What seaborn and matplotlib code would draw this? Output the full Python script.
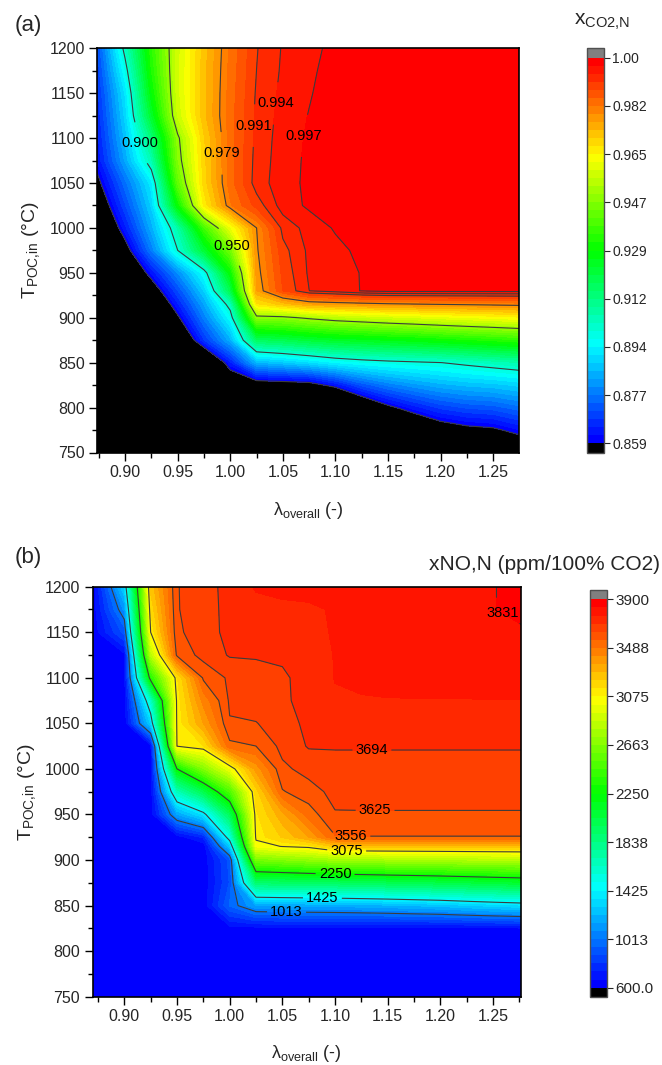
import numpy as np
import matplotlib
matplotlib.use("Agg")
import matplotlib.pyplot as plt
from matplotlib.colors import ListedColormap, BoundaryNorm
from matplotlib.ticker import MultipleLocator, FormatStrFormatter
import seaborn as sns

sns.set_style("ticks")
plt.rcParams["font.family"] = ["Liberation Sans", "DejaVu Sans"]
plt.rcParams["mathtext.fontset"] = "custom"
plt.rcParams["mathtext.rm"] = "Liberation Sans"
plt.rcParams["mathtext.it"] = "Liberation Sans:italic"
plt.rcParams["mathtext.bf"] = "Liberation Sans:bold"

# ---------------- data ----------------
lam = [0.870, 0.900, 0.925, 0.950, 0.975, 1.000, 1.025, 1.050, 1.075,
       1.100, 1.125, 1.150, 1.175, 1.200, 1.225, 1.250, 1.280]

# (a) CO2 purity x_CO2,N ; rows follow T_a, columns follow lam
T_a = [750, 775, 800, 825, 850, 875, 900, 915, 930, 950, 975, 1000,
       1025, 1050, 1075, 1100, 1125, 1150, 1175, 1200]
xco2 = [
    [0.800, 0.800, 0.800, 0.800, 0.800, 0.800, 0.800, 0.800, 0.800, 0.800, 0.800, 0.820, 0.828, 0.8371, 0.8412, 0.8425, 0.8494],
    [0.800, 0.800, 0.800, 0.800, 0.800, 0.810, 0.810, 0.810, 0.810, 0.810, 0.820, 0.8364, 0.8458, 0.8529, 0.8562, 0.8575, 0.8627],
    [0.800, 0.800, 0.800, 0.810, 0.810, 0.830, 0.830, 0.830, 0.830, 0.8296, 0.8465, 0.8569, 0.8635, 0.8686, 0.8712, 0.8723, 0.8761],
    [0.800, 0.800, 0.810, 0.820, 0.820, 0.8486, 0.8525, 0.8535, 0.8547, 0.8621, 0.8715, 0.8774, 0.8813, 0.8843, 0.8861, 0.8872, 0.8895],
    [0.800, 0.810, 0.820, 0.830, 0.841, 0.864, 0.8848, 0.8874, 0.8905, 0.8942, 0.8965, 0.8980, 0.8990, 0.9000, 0.9020, 0.9040, 0.9062],
    [0.800, 0.820, 0.830, 0.8446, 0.8674, 0.884, 0.9165, 0.9186, 0.9216, 0.9239, 0.9252, 0.9267, 0.9280, 0.9297, 0.9315, 0.9332, 0.9352],
    [0.810, 0.826, 0.838, 0.8575, 0.8775, 0.896, 0.9475, 0.9482, 0.9513, 0.9540, 0.9557, 0.9574, 0.9588, 0.9603, 0.9616, 0.9627, 0.9642],
    [0.815, 0.832, 0.845, 0.8642, 0.8826, 0.9035, 0.967, 0.9718, 0.976, 0.977, 0.9778, 0.9786, 0.9791, 0.9796, 0.980, 0.9804, 0.9809],
    [0.820, 0.838, 0.8525, 0.8705, 0.8885, 0.9188, 0.9764, 0.9883, 0.9941, 0.9955, 0.9972, 0.998, 0.998, 0.998, 0.998, 0.998, 0.998],
    [0.825, 0.8453, 0.8624, 0.8795, 0.8966, 0.9291, 0.9777, 0.9891, 0.9946, 0.9959, 0.9972, 0.9993, 0.9993, 0.9993, 0.9993, 0.9993, 0.9993],
    [0.827, 0.8544, 0.8772, 0.900, 0.9223, 0.9446, 0.9788, 0.9901, 0.9948, 0.9962, 0.9978, 0.9993, 0.9993, 0.9993, 0.9993, 0.9993, 0.9993],
    [0.8397, 0.8638, 0.8839, 0.9063, 0.9375, 0.9611, 0.9794, 0.9922, 0.9953, 0.9974, 0.9993, 0.9993, 0.9993, 0.9993, 0.9993, 0.9993, 0.9993],
    [0.8478, 0.8702, 0.8888, 0.9294, 0.9656, 0.9819, 0.9895, 0.9955, 0.9976, 0.9993, 0.9993, 0.9993, 0.9993, 0.9993, 0.9993, 0.9993, 0.9993],
    [0.854, 0.8753, 0.8929, 0.9417, 0.969, 0.984, 0.9927, 0.9957, 0.9978, 0.9993, 0.9993, 0.9993, 0.9993, 0.9993, 0.9993, 0.9993, 0.9993],
    [0.8595, 0.8829, 0.905, 0.9467, 0.9696, 0.984, 0.9924, 0.9956, 0.9977, 0.9993, 0.9993, 0.9993, 0.9993, 0.9993, 0.9993, 0.9993, 0.9993],
    [0.8608, 0.8864, 0.9129, 0.9486, 0.9702, 0.9839, 0.9921, 0.9955, 0.9975, 0.9993, 0.9993, 0.9993, 0.9993, 0.9993, 0.9993, 0.9993, 0.9993],
    [0.8621, 0.8892, 0.9232, 0.9564, 0.9726, 0.984, 0.9919, 0.9952, 0.9972, 0.999, 0.9993, 0.9993, 0.9993, 0.9993, 0.9993, 0.9993, 0.9993],
    [0.8634, 0.8916, 0.9286, 0.9577, 0.9726, 0.9838, 0.9916, 0.9949, 0.9968, 0.9987, 0.9993, 0.9993, 0.9993, 0.9993, 0.9993, 0.9993, 0.9993],
    [0.8647, 0.8968, 0.9324, 0.9577, 0.9725, 0.9834, 0.9912, 0.9946, 0.9965, 0.9983, 0.9993, 0.9993, 0.9993, 0.9993, 0.9993, 0.9993, 0.9993],
    [0.866, 0.9026, 0.9346, 0.9575, 0.972, 0.9831, 0.991, 0.9944, 0.9961, 0.998, 0.9993, 0.9993, 0.9993, 0.9993, 0.9993, 0.9993, 0.9993],
]

# (b) NO content xNO,N (ppm/100% CO2)
T_b = [750, 800, 825, 850, 875, 900, 915, 925, 950, 975, 1000, 1025,
       1050, 1075, 1100, 1125, 1150, 1175, 1200]
xno = [
    [620] * 17,
    [620] * 17,
    [620, 620, 620, 620, 620, 640, 640, 640, 640, 640, 640, 640, 640, 640, 645, 650, 660],
    [620, 620, 620, 620, 620, 950, 1147, 1158, 1167, 1174, 1187, 1202, 1224, 1244, 1280, 1311, 1343],
    [620, 620, 620, 620, 620, 880, 1904, 1919, 1931, 1943, 1963, 1983, 2001, 2021, 2046, 2070, 2098],
    [620, 620, 620, 620, 620, 900, 2612, 2654, 2700, 2744, 2755, 2766, 2777, 2787, 2799, 2809, 2819],
    [620, 620, 620, 620, 620, 1260, 3023, 3080, 3109, 3232, 3236, 3238, 3240, 3242, 3244, 3247, 3250],
    [620, 620, 620, 630, 750, 1520, 3100, 3220, 3350, 3550, 3553, 3553, 3553, 3553, 3553, 3553, 3553],
    [620, 620, 622, 1146, 1366, 1955, 3130, 3330, 3520, 3620, 3620, 3620, 3620, 3620, 3620, 3620, 3620],
    [620, 620, 625, 1650, 2000, 2470, 3180, 3550, 3598, 3645, 3648, 3648, 3648, 3648, 3648, 3648, 3648],
    [620, 620, 630, 2250, 2650, 3000, 3380, 3611, 3648, 3673, 3673, 3673, 3673, 3673, 3673, 3673, 3673],
    [620, 620, 640, 3077, 3141, 3535, 3556, 3645, 3700, 3698, 3698, 3698, 3698, 3698, 3698, 3698, 3698],
    [620, 620, 1300, 3095, 3350, 3620, 3622, 3661, 3712, 3740, 3745, 3748, 3750, 3752, 3754, 3756, 3758],
    [620, 630, 1590, 3103, 3445, 3635, 3659, 3683, 3715, 3755, 3758, 3760, 3760, 3760, 3760, 3760, 3760],
    [620, 640, 2334, 3135, 3570, 3637, 3660, 3683, 3720, 3765, 3775, 3780, 3785, 3790, 3795, 3800, 3810],
    [620, 650, 2815, 3576, 3648, 3700, 3702, 3705, 3735, 3765, 3780, 3785, 3790, 3795, 3800, 3805, 3815],
    [620, 900, 3075, 3611, 3666, 3711, 3735, 3740, 3745, 3768, 3785, 3790, 3795, 3800, 3805, 3815, 3825],
    [620, 1100, 3160, 3620, 3668, 3712, 3740, 3745, 3750, 3770, 3790, 3800, 3805, 3810, 3815, 3829, 3850],
    [620, 1300, 3235, 3621, 3668, 3715, 3770, 3785, 3790, 3795, 3800, 3805, 3810, 3815, 3820, 3829, 3850],
]

# colour scale ranges (48 bands each) and labelled isolines
range_a = (0.859, 1.0)
range_b = (600.0, 3900.0)
n_bands = 48
plain_a = [0]                                   # isolines drawn without a label
labels_a = {14: "0.900", 31: "0.950", 41: "0.979", 45: "0.991", 46: "0.994", 47: "0.997"}
plain_b = []
labels_b = {6: "1013", 12: "1425", 24: "2250", 36: "3075", 43: "3556",
            44: "3625", 45: "3694", 47: "3831"}
cbar_ticks_a = ["0.859", "0.877", "0.894", "0.912", "0.929", "0.947", "0.965", "0.982", "1.00"]
cbar_ticks_b = ["600.0", "1013", "1425", "1838", "2250", "2663", "3075", "3488", "3900"]

# where the isoline labels sit (lambda, T)
label_pos_a = [(0.916, 1095), (0.998, 978), (0.986, 1083), (1.020, 1114),
               (1.040, 1139), (1.068, 1103)]
label_pos_b = [(1.054, 843), (1.088, 857), (1.100, 882), (1.111, 909),
               (1.115, 926), (1.138, 952), (1.135, 1021), (1.252, 1157)]

# ---------------- styling ----------------
W, H = 662, 1065
fig = plt.figure(figsize=(W / 100, H / 100), dpi=100)

rainbow = sns.blend_palette(["#0000ff", "#00ffff", "#00ff00", "#ffff00", "#ff0000"],
                            n_colors=n_bands)
cmap = ListedColormap(rainbow)
cmap.set_under("black")
cmap.set_over("#808080")

line_color = "#3c3c3c"


def box(l, t, r, b):
    return [l / W, 1 - b / H, (r - l) / W, (b - t) / H]


def panel(ax, cax, T, Z, vrange, plain_idx, label_map, label_pos, ticklabels,
          xlim, cbar_fs):
    levels = np.linspace(vrange[0], vrange[1], n_bands + 1)
    norm = BoundaryNorm(levels, n_bands)
    cf = ax.contourf(lam, T, Z, levels=levels, cmap=cmap, norm=norm, extend="both")
    if plain_idx:
        ax.contour(lam, T, Z, levels=[levels[i] for i in plain_idx],
                   colors=line_color, linewidths=0.8)
    lab_levels = [levels[i] for i in label_map]
    cl = ax.contour(lam, T, Z, levels=lab_levels, colors=line_color,
                    linewidths=0.8)
    fmt = {levels[i]: s for i, s in label_map.items()}
    texts = ax.clabel(cl, fmt=fmt, inline=True, inline_spacing=3, fontsize=10.5,
                      colors="black", manual=label_pos)
    for t in texts:
        t.set_rotation(0)

    ax.set_xlim(*xlim)
    ax.set_ylim(750, 1200)
    ax.xaxis.set_major_locator(MultipleLocator(0.05))
    ax.xaxis.set_minor_locator(MultipleLocator(0.025))
    ax.xaxis.set_major_formatter(FormatStrFormatter("%.2f"))
    ax.yaxis.set_major_locator(MultipleLocator(50))
    ax.yaxis.set_minor_locator(MultipleLocator(25))
    ax.tick_params(which="major", direction="out", length=6, width=1.0,
                   labelsize=11.5, color="black", pad=3)
    ax.tick_params(which="minor", direction="out", length=3.5, width=1.0,
                   color="black")
    for s in ax.spines.values():
        s.set_color("black")
        s.set_linewidth(1.2)
    ax.set_xlabel("λ$_{\\mathrm{overall}}$ (-)", fontsize=13)
    ax.set_ylabel("T$_{\\mathrm{POC{,}in}}$ (°C)", fontsize=14)

    cb = fig.colorbar(cf, cax=cax, extend="both", extendrect=True,
                      extendfrac=0.024)
    cb.set_ticks(levels[::6])
    cb.set_ticklabels(ticklabels)
    cb.ax.tick_params(direction="out", length=4, width=0.8, labelsize=cbar_fs,
                      pad=2)
    cb.outline.set_edgecolor("#505050")
    cb.outline.set_linewidth(1.0)
    cb.ax.minorticks_off()
    return cf


ax_a = fig.add_axes(box(97.3, 48.3, 519.0, 452.5))
cax_a = fig.add_axes(box(587, 48.3, 604, 452.7))
panel(ax_a, cax_a, T_a, xco2, range_a, plain_a, labels_a, label_pos_a,
      cbar_ticks_a, (0.8737, 1.2744), 10)
ax_a.xaxis.set_label_coords(0.5, -0.118)
ax_a.yaxis.set_label_coords(-0.131, 0.5)

ax_b = fig.add_axes(box(92.7, 586.7, 520.7, 996.7))
cax_b = fig.add_axes(box(590, 590, 607, 997))
panel(ax_b, cax_b, T_b, xno, range_b, plain_b, labels_b, label_pos_b,
      cbar_ticks_b, (0.870, 1.2762), 11)
ax_b.xaxis.set_label_coords(0.5, -0.113)
ax_b.yaxis.set_label_coords(-0.127, 0.5)

fig.text(15 / W, 1 - 26 / H, "(a)", fontsize=16, va="center", ha="left")
fig.text(15 / W, 1 - 558 / H, "(b)", fontsize=16, va="center", ha="left")
fig.text(602 / W, 1 - 22 / H, "x$_{\\mathrm{CO2{,}N}}$", fontsize=15,
         va="center", ha="center")
fig.text(660 / W, 1 - 565 / H, "xNO,N (ppm/100% CO2)", fontsize=15,
         va="center", ha="right")

fig.savefig("out.png", dpi=100)
